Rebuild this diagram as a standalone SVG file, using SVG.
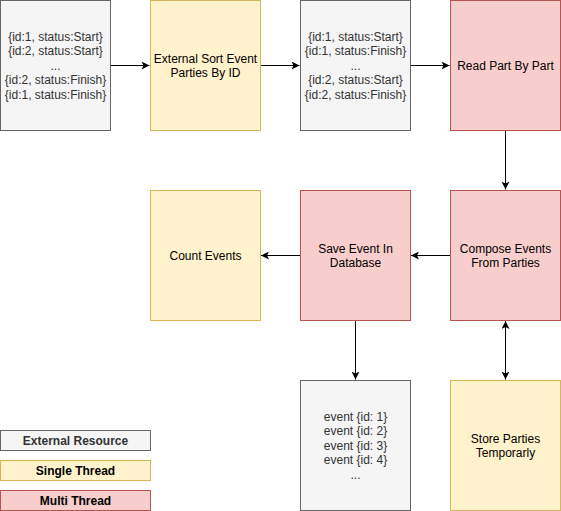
<svg xmlns="http://www.w3.org/2000/svg" width="561" height="511" viewBox="0 0 561 511">
<style>
.gray{fill:#f5f5f5;stroke:#666666;stroke-width:1}
.yel{fill:#fff2cc;stroke:#d6b656;stroke-width:1}
.red{fill:#f8cecc;stroke:#b85450;stroke-width:1}
text{font-family:"Liberation Sans",Arial,Helvetica,sans-serif;font-size:12px;text-anchor:middle}
.gt{fill:#333333}
.bt{fill:#000000}
.leg{font-weight:bold}
.conn line{stroke:#000000;stroke-width:1;fill:none}
</style>
<defs>
<marker id="arr" viewBox="0 0 8 8" markerWidth="8" markerHeight="8" refX="8" refY="4" markerUnits="userSpaceOnUse" orient="auto-start-reverse">
<path d="M0,0 L8,4 L0,8 L2,4 Z" fill="#000000"/>
</marker>
</defs>
<rect width="561" height="511" fill="#ffffff"/>
<g class="conn" id="connectors">
<line x1="110.5" y1="65.5" x2="149.5" y2="65.5" marker-end="url(#arr)"/>
<line x1="260.5" y1="65.5" x2="299.5" y2="65.5" marker-end="url(#arr)"/>
<line x1="410.5" y1="65.5" x2="449.5" y2="65.5" marker-end="url(#arr)"/>
<line x1="505.5" y1="130.5" x2="505.5" y2="189.5" marker-end="url(#arr)"/>
<line x1="450.5" y1="255.5" x2="411" y2="255.5" marker-end="url(#arr)"/>
<line x1="300.5" y1="255.5" x2="261" y2="255.5" marker-end="url(#arr)"/>
<line x1="355.5" y1="320.5" x2="355.5" y2="379.5" marker-end="url(#arr)"/>
<line x1="505.5" y1="321" x2="505.5" y2="379.5" marker-start="url(#arr)" marker-end="url(#arr)"/>
</g>
<g id="input-events">
<rect class="gray" x="0.5" y="0.5" width="110" height="130"/>
<text class="gt" x="55.5"><tspan x="55.5" y="40.5">{id:1, status:Start}</tspan><tspan x="55.5" y="55">{id:2, status:Start}</tspan><tspan x="55.5" y="69.5">...</tspan><tspan x="55.5" y="84">{id:2, status:Finish}</tspan><tspan x="55.5" y="98.5">{id:1, status:Finish}</tspan></text>
</g>
<g id="external-sort">
<rect class="yel" x="150.5" y="0.5" width="110" height="130"/>
<text class="bt"><tspan x="205.5" y="62.5">External Sort Event</tspan><tspan x="205.5" y="77">Parties By ID</tspan></text>
</g>
<g id="sorted-events">
<rect class="gray" x="300.5" y="0.5" width="110" height="130"/>
<text class="gt"><tspan x="355.5" y="40.5">{id:1, status:Start}</tspan><tspan x="355.5" y="55">{id:1, status:Finish}</tspan><tspan x="355.5" y="69.5">...</tspan><tspan x="355.5" y="84">{id:2, status:Start}</tspan><tspan x="355.5" y="98.5">{id:2, status:Finish}</tspan></text>
</g>
<g id="read-part">
<rect class="red" x="450.5" y="0.5" width="110" height="130"/>
<text class="bt" x="505.5" y="69.5">Read Part By Part</text>
</g>
<g id="count-events">
<rect class="yel" x="150.5" y="190.5" width="110" height="130"/>
<text class="bt" x="205.5" y="259.5">Count Events</text>
</g>
<g id="save-event">
<rect class="red" x="300.5" y="190.5" width="110" height="130"/>
<text class="bt"><tspan x="355.5" y="252.5">Save Event In</tspan><tspan x="355.5" y="267">Database</tspan></text>
</g>
<g id="compose-events">
<rect class="red" x="450.5" y="190.5" width="110" height="130"/>
<text class="bt"><tspan x="505.5" y="252.5">Compose Events</tspan><tspan x="505.5" y="267">From Parties</tspan></text>
</g>
<g id="database">
<rect class="gray" x="300.5" y="380.5" width="110" height="130"/>
<text class="gt"><tspan x="355.5" y="420.5">event {id: 1}</tspan><tspan x="355.5" y="435">event {id: 2}</tspan><tspan x="355.5" y="449.5">event {id: 3}</tspan><tspan x="355.5" y="464">event {id: 4}</tspan><tspan x="355.5" y="478.5">...</tspan></text>
</g>
<g id="store-parties">
<rect class="yel" x="450.5" y="380.5" width="110" height="130"/>
<text class="bt"><tspan x="505.5" y="442.5">Store Parties</tspan><tspan x="505.5" y="457">Temporarly</tspan></text>
</g>
<g id="legend-external">
<rect class="gray" x="0.5" y="430.5" width="150" height="20"/>
<text class="gt leg" x="75.5" y="445">External Resource</text>
</g>
<g id="legend-single">
<rect class="yel" x="0.5" y="460.5" width="150" height="20"/>
<text class="bt leg" x="75.5" y="475">Single Thread</text>
</g>
<g id="legend-multi">
<rect class="red" x="0.5" y="490.5" width="150" height="20"/>
<text class="bt leg" x="75.5" y="505">Multi Thread</text>
</g>
</svg>
